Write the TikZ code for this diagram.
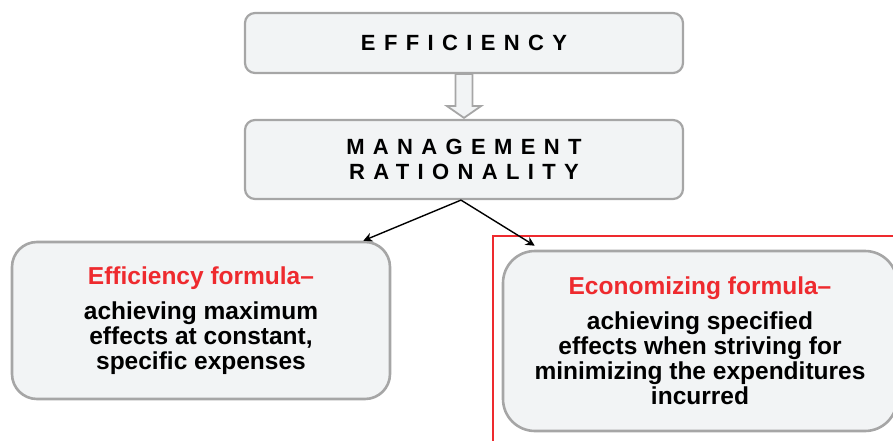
\documentclass[tikz,border=0pt]{standalone}
\usepackage{fontspec}
\setmainfont{Liberation Sans}
\usetikzlibrary{calc,arrows.meta}
\definecolor{boxfill}{HTML}{F2F4F5}
\definecolor{boxline}{HTML}{A6A6A6}
\definecolor{redtxt}{HTML}{EE2A2E}
\begin{document}
\begin{tikzpicture}[x=1pt,y=-1pt,
  topbox/.style={draw=boxline, line width=2.2pt, fill=boxfill, rounded corners=10pt,
    minimum width=438pt, align=center, inner sep=0pt,
    font=\bfseries\fontsize{22}{25}\selectfont\addfontfeature{LetterSpace=38}},
  formbox/.style={draw=boxline, line width=2.6pt, fill=boxfill, align=center, inner sep=0pt,
    font=\bfseries\fontsize{24.5}{25}\selectfont},
  conn/.style={line width=1.4pt, -{Stealth[length=9pt,width=9pt]}},
  hollow/.style={draw=boxline, line width=1.8pt, fill=boxfill}]
\useasboundingbox (0,0) rectangle (893,441);
\clip (0,0) rectangle (893,441);
\node[topbox, minimum height=60pt] (eff) at (464,43) {EFFICIENCY};
\node[topbox, minimum height=79pt] (mgmt) at (464,159.5) {MANAGEMENT\\RATIONALITY};
% hollow arrow between the two top boxes
\draw[hollow] ($(eff.south)+(-8.5,0)$) -- ($(eff.south)+(8.5,0)$) -- ($(eff.south)+(8.5,32)$)
  -- ($(eff.south)+(17,32)$) -- ($(mgmt.north)+(0,-1)$) -- ($(eff.south)+(-17,32)$)
  -- ($(eff.south)+(-8.5,32)$) -- cycle;
% red frame
\draw[draw=redtxt, line width=1.5pt] (493,450) -- (493,236) -- (900,236);
\node[formbox, minimum width=378pt, minimum height=157pt, rounded corners=25pt] (left) at (201,320.5)
  {\textcolor{redtxt}{Efficiency formula–}\\[10pt]achieving maximum\\effects at constant,\\specific expenses};
\node[formbox, minimum width=394pt, minimum height=180pt, rounded corners=32pt] (right) at (700,341)
  {\textcolor{redtxt}{Economizing formula–}\\[10pt]achieving specified\\effects when striving for\\minimizing the expenditures\\incurred};
\coordinate (split) at ($(mgmt.south)+(-3,0)$);
\draw[conn] (split) -- ($(left.north east)+(-28,0)$);
\draw[conn] (split) -- ($(right.north west)+(33,-4)$);
\end{tikzpicture}
\end{document}
